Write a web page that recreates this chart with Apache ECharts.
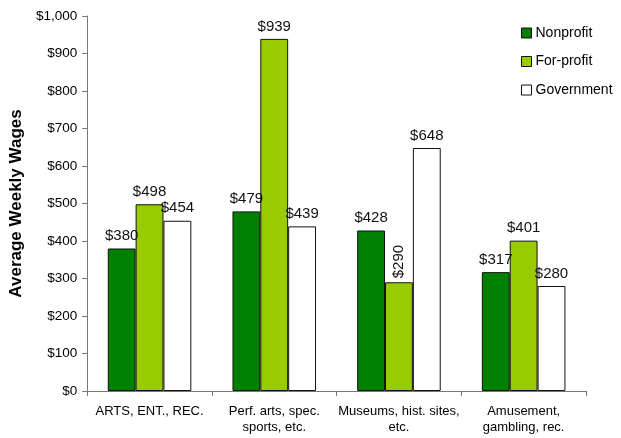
<!DOCTYPE html>
<html><head><meta charset="utf-8">
<script src="https://cdn.jsdelivr.net/npm/echarts@6/dist/echarts.min.js"></script>
<style>html,body{margin:0;padding:0;background:#fff}#c{width:621px;height:438px}</style>
</head><body><div id="c"></div>
<script>
const categories = ['ARTS, ENT., REC.', 'Perf. arts, spec.\nsports, etc.', 'Museums, hist. sites,\netc.', 'Amusement,\ngambling, rec.'];
const nonprofit = [380, 479, 428, 317];
const forprofit = [498, 939, 290, 401];
const government = [454, 439, 648, 280];
const seriesNames = ['Nonprofit', 'For-profit', 'Government'];
const yTicks = [0, 100, 200, 300, 400, 500, 600, 700, 800, 900, 1000];

const fmt = v => '$' + v.toLocaleString('en-US');
const font = '"Liberation Sans", Arial, sans-serif';
const chart = echarts.init(document.getElementById('c'));
function mk(name, data, color) {
  return {
    name, type: 'bar', data: data.map(v => {
      const d = { value: v };
      if (name === 'For-profit' && v === 290) {
        d.label = { rotate: 90, align: 'left', verticalAlign: 'middle', distance: 4 };
      }
      return d;
    }),
    barGap: '0%', barCategoryGap: '33%',
    itemStyle: { color, borderColor: '#111', borderWidth: 1 },
    label: { show: true, position: 'top', formatter: p => fmt(p.value), fontFamily: font, fontSize: 15, color: '#111', distance: 5 }
  };
}
chart.setOption({
  animation: false,
  grid: { left: 84, right: 35, top: 16, bottom: 47 },
  legend: {
    orient: 'vertical', left: 516, top: 21, itemWidth: 10, itemHeight: 10, itemGap: 14.5, icon: 'rect',
    textStyle: { fontFamily: font, fontSize: 14, color: '#000', padding: [0, 0, 0, -1] },
    data: seriesNames.map(n => ({ name: n, itemStyle: { borderColor: '#111', borderWidth: 1 } }))
  },
  xAxis: {
    type: 'category', data: categories,
    axisLine: { lineStyle: { color: '#777', width: 1 } },
    axisTick: { show: true, length: 5, lineStyle: { color: '#777' } },
    axisLabel: { fontFamily: font, fontSize: 13, color: '#000', margin: 12, lineHeight: 16, interval: 0 }
  },
  yAxis: {
    type: 'value', min: 0, max: 1000, interval: 100,
    name: 'Average Weekly Wages', nameLocation: 'middle', nameGap: 57,
    nameTextStyle: { fontFamily: font, fontSize: 17, fontWeight: 'bold', color: '#000' },
    axisLine: { show: true, lineStyle: { color: '#777' } },
    axisTick: { show: true, length: 5, lineStyle: { color: '#777' } },
    splitLine: { show: false },
    axisLabel: { fontFamily: font, fontSize: 13.5, color: '#000', margin: 10, formatter: v => yTicks.includes(v) ? fmt(v) : '' }
  },
  series: [mk('Nonprofit', nonprofit, '#008000'), mk('For-profit', forprofit, '#99CC00'), mk('Government', government, '#FFFFFF')]
});
</script></body></html>
